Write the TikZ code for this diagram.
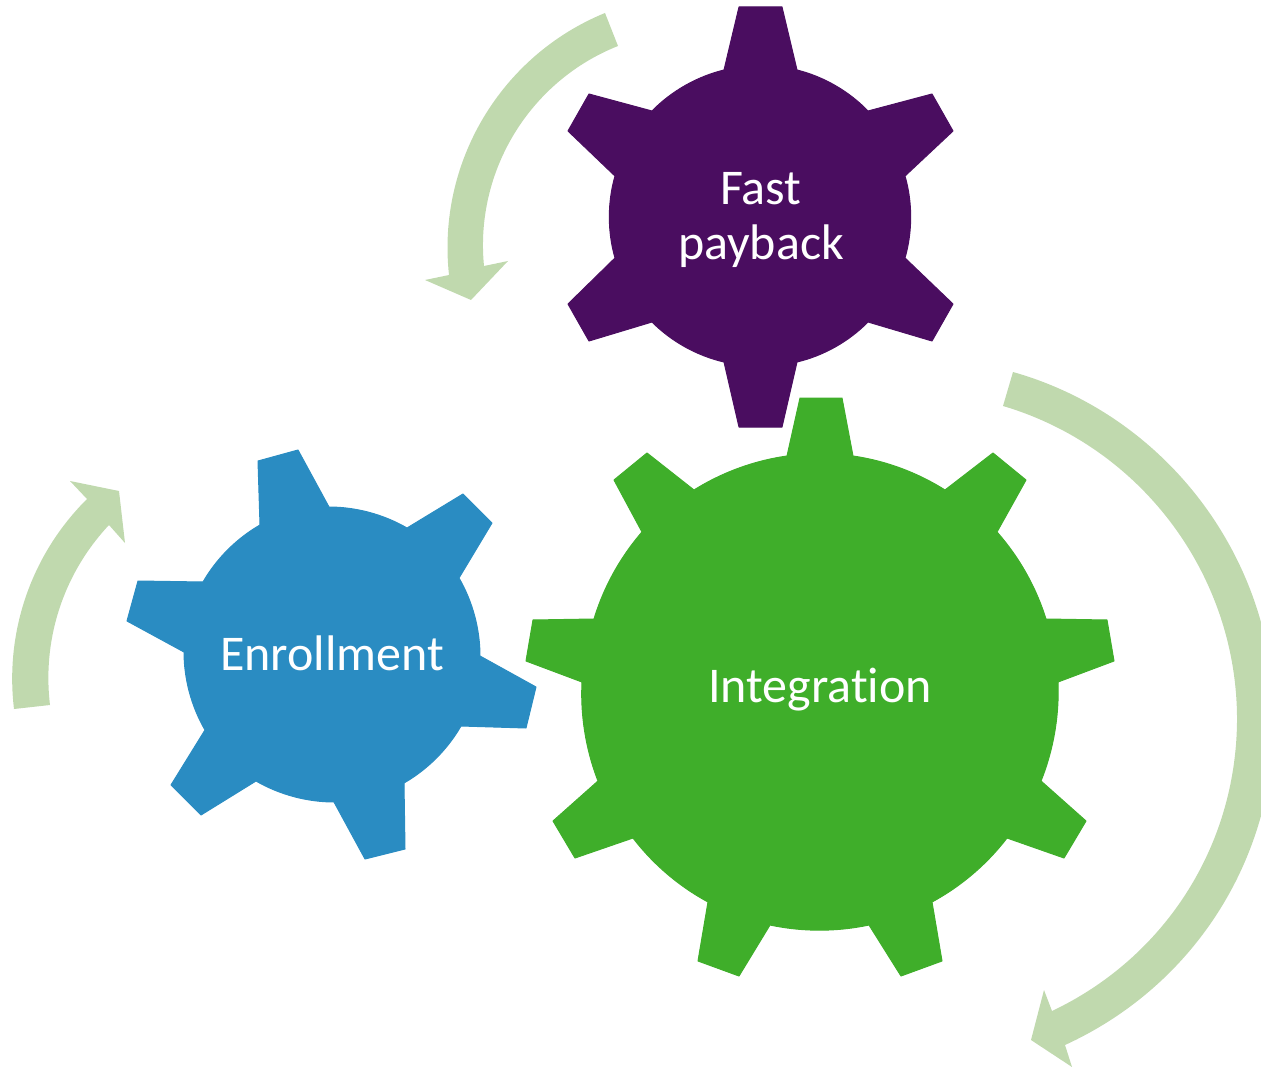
\documentclass[tikz,border=0pt]{standalone}
\usepackage{fontspec}
\setmainfont[Ligatures=CommonOff]{Carlito}
\definecolor{gearpurple}{HTML}{4A0D60}
\definecolor{geargreen}{HTML}{3FAE2A}
\definecolor{gearblue}{HTML}{2A8CC2}
\definecolor{arrowgreen}{HTML}{C0D9AE}
\tikzset{
  gearlabel/.style={text=white,font=\fontsize{50}{55}\selectfont,align=center,inner sep=0pt},
  gearshape/.style={line join=round,draw,line width=1pt},
  rA/.style={bend left=16,looseness=0.86},
  rB/.style={bend left=12,looseness=0.86},
  rC/.style={bend left=15,looseness=0.86},
}
\begin{document}
\begin{tikzpicture}[x=1pt,y=-1pt]
\useasboundingbox (0,0) rectangle (1261,1067);
\clip (0,0) rectangle (1261,1067);
% circular arrows
\fill[arrowgreen] (605,13) to[bend right=37,looseness=0.945] (449,275) -- (425,280) -- (471,300) -- (508,261) -- (484,266) to[bend left=37,looseness=0.945] (618,46) -- cycle;
\fill[arrowgreen] (1013,372) to[bend left=37.5,looseness=0.945] (1274,722) to[bend left=32.5,looseness=0.93] (1065,1045) -- (1072,1067) -- (1031,1040) -- (1044,990) -- (1052,1011) to[bend right=32,looseness=0.93] (1237,722) to[bend right=37,looseness=0.945] (1003,406) -- cycle;
\fill[arrowgreen] (14,709) to[bend left=26,looseness=0.9] (87,499) -- (70,481) -- (119,491) -- (125,543) -- (109,525) to[bend right=25,looseness=0.9] (50,705) -- cycle;
% purple gear
\filldraw[gearshape,color=gearpurple,fill=gearpurple] (739,7) -- (782,7) -- (797,70) to[rA] (868,111) -- (932,94) -- (953,131) -- (905,176) to[rA] (905,258) -- (953,304) -- (932,341) -- (868,322) to[rA] (797,362) -- (782,427) -- (739,427) -- (724,362) to[rA] (652,322) -- (589,341) -- (568,304) -- (615,258) to[rA] (615,176) -- (568,131) -- (589,94) -- (652,111) to[rA] (724,70) -- cycle;
% green gear
\filldraw[gearshape,color=geargreen,fill=geargreen] (800,398) -- (842,398) -- (853,456) to[rB] (945,490) -- (993,453) -- (1026,480) -- (997,532) to[rB] (1046,619) -- (1107,620) -- (1114,661) -- (1058,682) to[rB] (1041,781) -- (1086,821) -- (1064,858) -- (1007,838) to[rB] (932,902) -- (942,961) -- (901,976) -- (869,925) to[rB] (770,925) -- (739,976) -- (698,961) -- (708,902) to[rB] (633,838) -- (575,858) -- (553,821) -- (598,781) to[rB] (582,682) -- (526,661) -- (533,620) -- (594,619) to[rB] (642,532) -- (614,480) -- (647,453) -- (694,490) to[rB] (787,456) -- cycle;
% blue gear
\filldraw[gearshape,color=gearblue,fill=gearblue] (258,461) -- (298,450) -- (329,507) to[rC] (407,528) -- (463,494) -- (492,523) -- (459,578) to[rC] (480,656) -- (536,687) -- (526,728) -- (461,726) to[rC] (404,783) -- (405,849) -- (365,859) -- (334,802) to[rC] (256,781) -- (201,815) -- (171,785) -- (205,730) to[rC] (184,652) -- (127,621) -- (138,581) -- (203,582) to[rC] (260,525) -- cycle;
% labels
\node[gearlabel] (fast) at (761,220) {Fast\\payback};
\node[gearlabel] (integration) at (820,690) {Integration};
\node[gearlabel] (enrollment) at (332,653) {Enrollment};
\end{tikzpicture}
\end{document}
